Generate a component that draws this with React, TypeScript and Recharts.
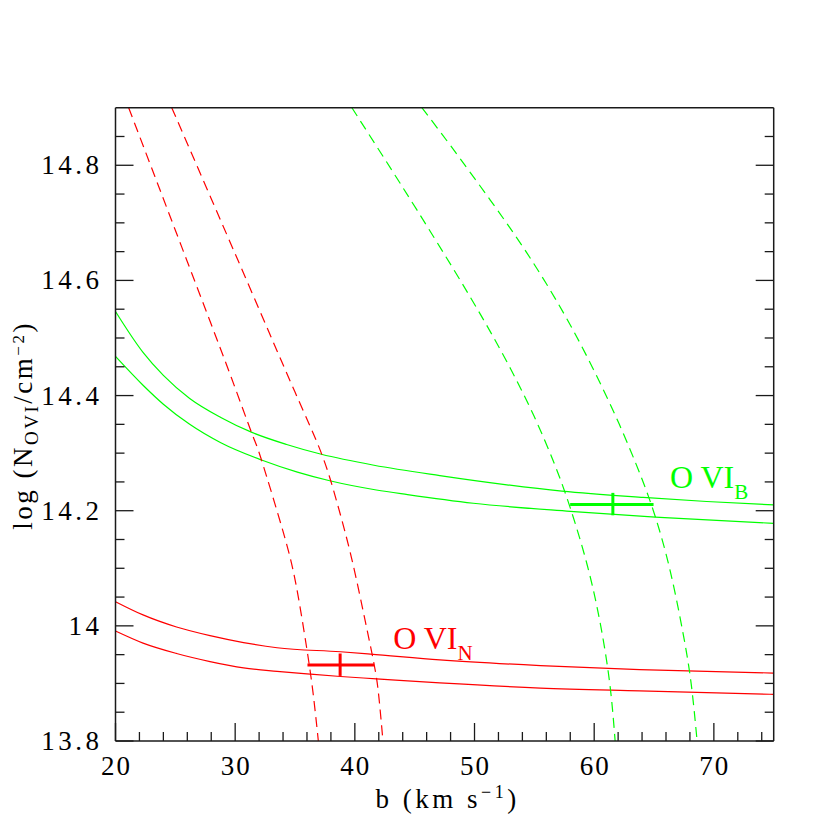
import React from 'react';
import { ComposedChart, Line, XAxis, YAxis, ReferenceDot } from 'recharts';

// ---------- data (b in km/s, n = log N) ----------
const redDashLeft = [[21.1, 14.9], [23.3, 14.78], [25.5, 14.66], [27.7, 14.54], [29.7, 14.43], [31.4, 14.334], [32.2, 14.288], [34.0, 14.164], [35.1, 14.07], [35.95, 13.965], [36.5, 13.885], [36.95, 13.8]];
const redDashRight = [[24.7, 14.9], [28.0, 14.742], [31.5, 14.574], [35.0, 14.406], [37.2, 14.3], [38.5, 14.215], [39.7, 14.12], [40.8, 14.015], [41.62, 13.932], [42.0, 13.878], [42.35, 13.8]];
const greenDashLeft = [[39.75, 14.9], [42.4, 14.814], [45.2, 14.722], [48.2, 14.621], [50.8, 14.53], [53.0, 14.447], [55.0, 14.363], [56.7, 14.28], [58.0, 14.205], [59.4, 14.107], [60.5, 14.005], [61.3, 13.9], [61.75, 13.8]];
const greenDashRight = [[45.6, 14.9], [48.0, 14.834], [51.3, 14.74], [54.4, 14.647], [57.4, 14.545], [59.9, 14.447], [62.1, 14.35], [63.9, 14.26], [65.1, 14.19], [66.3, 14.1], [67.4, 13.99], [68.1, 13.9], [68.6, 13.8]];

const greenSolidUpper = [[20, 14.546], [22.3, 14.475], [24, 14.435], [26.2, 14.395], [28.8, 14.362], [31.4, 14.336], [34.3, 14.315], [37.2, 14.298], [41.6, 14.279], [47.1, 14.261], [52.7, 14.245], [57.3, 14.234], [64.1, 14.223], [69.4, 14.216], [75, 14.21]];
const greenSolidLower = [[20, 14.468], [22.3, 14.418], [24, 14.385], [26.2, 14.35], [28.8, 14.318], [32.2, 14.288], [35.2, 14.267], [37.9, 14.252], [41.8, 14.236], [44.4, 14.228], [49.9, 14.213], [58, 14.199], [65.1, 14.189], [75, 14.178]];
const redSolidUpper = [[20, 14.042], [22.3, 14.019], [25.1, 13.998], [27.9, 13.983], [30.7, 13.971], [33.5, 13.962], [38.8, 13.955], [41.3, 13.951], [47.1, 13.941], [55.5, 13.931], [63.8, 13.924], [75, 13.918]];
const redSolidLower = [[20, 13.991], [22.3, 13.97], [25.1, 13.952], [27.9, 13.938], [30.7, 13.927], [33.5, 13.921], [36.3, 13.916], [38.8, 13.912], [41.8, 13.908], [47.1, 13.901], [55.5, 13.892], [63.8, 13.887], [75, 13.881]];

// measurement points: [b, bLow, bHigh, n, nLow, nHigh]
const redPoint = [38.77, 36.04, 41.62, 13.932, 13.913, 13.952];
const greenPoint = [61.56, 57.99, 64.96, 14.211, 14.192, 14.231];

// label anchors [b, n]
const labelN = [43.2, 13.959];
const labelB = [66.33, 14.239];

const xTicks = [20, 22, 24, 26, 28, 30, 32, 34, 36, 38, 40, 42, 44, 46, 48, 50, 52, 54, 56, 58, 60, 62, 64, 66, 68, 70, 72, 74];
const xMajor = [20, 30, 40, 50, 60, 70];
const yTicks = [13.8, 13.85, 13.9, 13.95, 14, 14.05, 14.1, 14.15, 14.2, 14.25, 14.3, 14.35, 14.4, 14.45, 14.5, 14.55, 14.6, 14.65, 14.7, 14.75, 14.8, 14.85];
const yMajor = [13.8, 14, 14.2, 14.4, 14.6, 14.8];
const yMajorLabels = ['13.8', '14', '14.2', '14.4', '14.6', '14.8'];

const RED = '#ff0000';
const GREEN = '#00ff00';
const AX = '#1a1a1a';
const FONT = '"Liberation Serif", "Times New Roman", serif';
const MAJ = 18;
const MIN = 9;

const pts = (a: number[][]) => a.map(([b, n]) => ({ b, n }));
const isMajor = (list: number[], v: number) => list.findIndex((m) => Math.abs(m - v) < 1e-6);

const BottomTick = (p: any) => {
  const { x, y, payload } = p;
  const i = isMajor(xMajor, payload.value);
  return (
    <g>
      <line x1={x} y1={y} x2={x} y2={y - (i >= 0 ? MAJ : MIN)} stroke={AX} strokeWidth={1.3} />
      {i >= 0 && (
        <text x={x + 1} y={y + 34} textAnchor="middle" fontFamily={FONT} fontSize={27} letterSpacing={2} fill="#000">
          {String(xMajor[i])}
        </text>
      )}
    </g>
  );
};
const TopTick = (p: any) => {
  const { x, y, payload } = p;
  const i = isMajor(xMajor, payload.value);
  return <line x1={x} y1={y} x2={x} y2={y + (i >= 0 ? MAJ : MIN)} stroke={AX} strokeWidth={1.3} />;
};
const LeftTick = (p: any) => {
  const { x, y, payload } = p;
  const i = isMajor(yMajor, payload.value);
  return (
    <g>
      <line x1={x} y1={y} x2={x + (i >= 0 ? MAJ : MIN)} y2={y} stroke={AX} strokeWidth={1.3} />
      {i >= 0 && (
        <text x={x - 13} y={y + 9} textAnchor="end" fontFamily={FONT} fontSize={27} letterSpacing={3.5} fill="#000">
          {yMajorLabels[i]}
        </text>
      )}
    </g>
  );
};
const RightTick = (p: any) => {
  const { x, y, payload } = p;
  const i = isMajor(yMajor, payload.value);
  return <line x1={x} y1={y} x2={x - (i >= 0 ? MAJ : MIN)} y2={y} stroke={AX} strokeWidth={1.3} />;
};

const XTitle = (p: any) => {
  const vb = p.viewBox;
  const cx = vb.x + vb.width / 2 + 3;
  const y = vb.y + 67;
  return (
    <text x={cx} y={y} textAnchor="middle" fontFamily={FONT} fontSize={27} fill="#000" letterSpacing={3.5}>
      b  (km  s<tspan fontSize={18} dy={-10}>−1</tspan>
      <tspan dy={10}>)</tspan>
    </text>
  );
};
const YTitle = (p: any) => {
  const vb = p.viewBox;
  const x = 24;
  const cy = vb.y + vb.height / 2 + 1;
  return (
    <g transform={`translate(${x}, ${cy}) rotate(-90)`}>
      <text x={0} y={0} textAnchor="middle" fontFamily={FONT} fontSize={27} fill="#000" letterSpacing={2.5}>
        log  (N<tspan fontSize={19} dy={6}>OVI</tspan>
        <tspan dy={-6}>/cm</tspan>
        <tspan fontSize={17} dy={-8}>−2</tspan>
        <tspan dy={8}>)</tspan>
      </text>
    </g>
  );
};

const SeriesLabel = (color: string, main: string, sub: string) => (p: any) => {
  const vb = p.viewBox;
  return (
    <text x={vb.x} y={vb.y} fontFamily={FONT} fontSize={32} fill={color}>
      {main}
      <tspan fontSize={21} dy={11}>{sub}</tspan>
    </text>
  );
};

const errSegments = (pnt: number[]) => ({
  h: [{ b: pnt[1], n: pnt[3] }, { b: pnt[2], n: pnt[3] }],
  v: [{ b: pnt[0], n: pnt[4] }, { b: pnt[0], n: pnt[5] }],
});

export default function App() {
  const redErr = errSegments(redPoint);
  const greenErr = errSegments(greenPoint);
  const common = { xAxisId: 'b', yAxisId: 'n', dataKey: 'n', dot: false, isAnimationActive: false, activeDot: false } as any;
  const axisLine = { stroke: AX, strokeWidth: 1.5 };
  return (
    <div style={{ width: 822, height: 822 }}>
      <ComposedChart width={822} height={822} margin={{ top: 89.7, right: 46.3, bottom: 9, left: 7.5 }}>
        <XAxis xAxisId="b" dataKey="b" type="number" domain={[20, 75]} allowDataOverflow ticks={xTicks} interval={0}
          tick={BottomTick} tickSize={0} tickMargin={0} tickLine={false} axisLine={axisLine} height={80}
          label={{ content: XTitle } as any} />
        <XAxis xAxisId="top" orientation="top" type="number" domain={[20, 75]} allowDataOverflow ticks={xTicks} interval={0}
          tick={TopTick} tickSize={0} tickMargin={0} tickLine={false} axisLine={axisLine} height={10} />
        <YAxis yAxisId="n" type="number" domain={[13.8, 14.9]} allowDataOverflow ticks={yTicks} interval={0}
          tick={LeftTick} tickSize={0} tickMargin={0} tickLine={false} axisLine={axisLine} width={100}
          label={{ content: YTitle } as any} />
        <YAxis yAxisId="right" orientation="right" type="number" domain={[13.8, 14.9]} allowDataOverflow ticks={yTicks} interval={0}
          tick={RightTick} tickSize={0} tickMargin={0} tickLine={false} axisLine={axisLine} width={10} />

        <Line {...common} data={pts(redSolidUpper)} type="monotone" stroke={RED} strokeWidth={1.2} />
        <Line {...common} data={pts(redSolidLower)} type="monotone" stroke={RED} strokeWidth={1.2} />
        <Line {...common} data={pts(greenSolidUpper)} type="monotone" stroke={GREEN} strokeWidth={1.2} />
        <Line {...common} data={pts(greenSolidLower)} type="monotone" stroke={GREEN} strokeWidth={1.2} />
        <Line {...common} data={pts(redDashLeft)} type="natural" stroke={RED} strokeWidth={1.2} strokeDasharray="10 6" />
        <Line {...common} data={pts(redDashRight)} type="natural" stroke={RED} strokeWidth={1.2} strokeDasharray="10 6" />
        <Line {...common} data={pts(greenDashLeft)} type="natural" stroke={GREEN} strokeWidth={1.2} strokeDasharray="10 6" />
        <Line {...common} data={pts(greenDashRight)} type="natural" stroke={GREEN} strokeWidth={1.2} strokeDasharray="10 6" />

        <Line {...common} data={redErr.h} type="linear" stroke={RED} strokeWidth={3} />
        <Line {...common} data={redErr.v} type="linear" stroke={RED} strokeWidth={3} />
        <Line {...common} data={greenErr.h} type="linear" stroke={GREEN} strokeWidth={3} />
        <Line {...common} data={greenErr.v} type="linear" stroke={GREEN} strokeWidth={3} />

        <ReferenceDot xAxisId="b" yAxisId="n" x={labelN[0]} y={labelN[1]} r={0} fill="none" stroke="none" ifOverflow="visible"
          label={{ content: SeriesLabel(RED, 'O VI', 'N') } as any} />
        <ReferenceDot xAxisId="b" yAxisId="n" x={labelB[0]} y={labelB[1]} r={0} fill="none" stroke="none" ifOverflow="visible"
          label={{ content: SeriesLabel(GREEN, 'O VI', 'B') } as any} />
      </ComposedChart>
    </div>
  );
}
